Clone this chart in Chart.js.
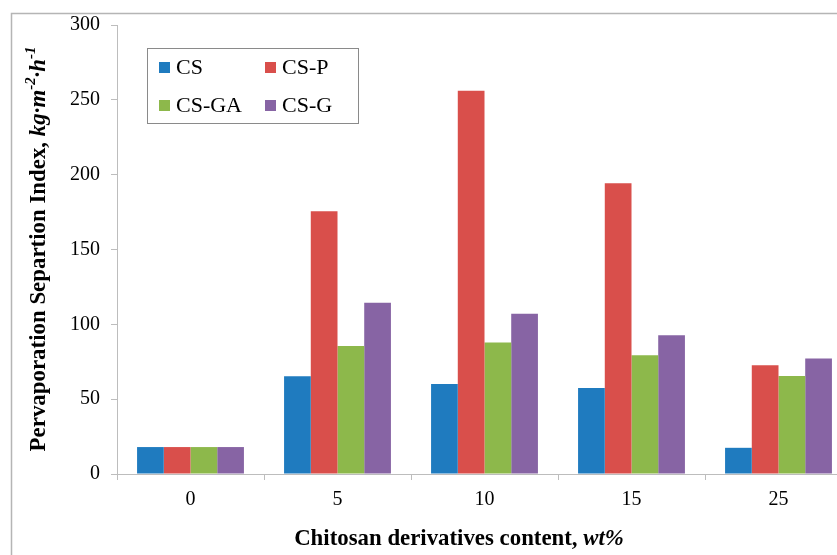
<!DOCTYPE html>
<html>
<head>
<meta charset="utf-8">
<script src="https://cdn.jsdelivr.net/npm/chart.js@4.4.1/dist/chart.umd.min.js"></script>
<style>
  html, body { margin: 0; padding: 0; background: #fff; overflow: hidden; }
  #wrap { width: 837px; height: 555px; overflow: hidden; position: relative; }
  canvas { display: block; }
</style>
</head>
<body>
<div id="wrap"><canvas id="c" width="870" height="555"></canvas></div>
<script>
// ---- data ----
const categories = ['0', '5', '10', '15', '25'];
const seriesNames = ['CS', 'CS-P', 'CS-GA', 'CS-G'];
const csValues   = [18, 65.3, 60.2, 57.5, 17.5];
const cspValues  = [18, 175.5, 256.1, 194.2, 72.7];
const csgaValues = [18, 85.5, 87.8, 79.3, 65.5];
const csgValues  = [18, 114.4, 107.1, 92.7, 77.1];
const yMin = 0, yMax = 300, yStep = 50;
const xTitleMain = 'Chitosan derivatives content, ';
const xTitleItalic = 'wt%';
const yTitleMain = 'Pervaporation Separtion Index, ';

const colors = ['#1F7BBF', '#D94F4B', '#8DB84B', '#8764A4'];
const SERIF = "'Liberation Serif', 'Times New Roman', serif";
const W = 870, H = 555;
const plotLeft = 117, plotRight = 852, plotTop = 25, plotBottom = 474;

const seriesValues = [csValues, cspValues, csgaValues, csgValues];

function fitFont(ctx, parts, targetW, baseSize) {
  let total = 0;
  parts.forEach(p => {
    ctx.font = `${p.style || 'normal'} bold ${baseSize * (p.scale || 1)}px ${SERIF}`;
    total += ctx.measureText(p.text).width;
  });
  return baseSize * targetW / total;
}

const decor = {
  id: 'decor',
  beforeDraw(chart) {
    const ctx = chart.ctx;
    ctx.save();
    ctx.fillStyle = '#fff';
    ctx.fillRect(0, 0, W, H);
    ctx.strokeStyle = '#b5b5b5';
    ctx.lineWidth = 1.5;
    ctx.beginPath();
    ctx.moveTo(11.5, H + 5);
    ctx.lineTo(11.5, 13.5);
    ctx.lineTo(W + 5, 13.5);
    ctx.stroke();
    ctx.restore();
  },
  afterDraw(chart) {
    const ctx = chart.ctx;
    ctx.save();
    // ---- legend ----
    ctx.strokeStyle = '#8a8a8a';
    ctx.lineWidth = 1;
    ctx.strokeRect(147.5, 48.5, 211, 75);
    const pos = [[159, 67], [265, 67], [159, 105], [265, 105]];
    ctx.font = `22px ${SERIF}`;
    ctx.textBaseline = 'middle';
    ctx.textAlign = 'left';
    chart.data.datasets.forEach((ds, i) => {
      const [mx, my] = pos[i];
      ctx.fillStyle = ds.backgroundColor;
      ctx.fillRect(mx, my - 5, 11, 11);
      ctx.fillStyle = '#000';
      ctx.fillText(ds.label, mx + 17, my + 1);
    });

    // ---- x title ----
    const xParts = [{text: xTitleMain}, {text: xTitleItalic, style: 'italic'}];
    const xs = fitFont(ctx, xParts, 330, 21);
    let totalX = 0;
    xParts.forEach(p => { ctx.font = `${p.style || 'normal'} bold ${xs}px ${SERIF}`; p.w = ctx.measureText(p.text).width; totalX += p.w; });
    let x = 459 - totalX / 2;
    ctx.textBaseline = 'alphabetic';
    ctx.fillStyle = '#000';
    xParts.forEach(p => { ctx.font = `${p.style || 'normal'} bold ${xs}px ${SERIF}`; ctx.fillText(p.text, x, 545); x += p.w; });

    // ---- y title (rotated) ----
    const yParts = [
      {text: yTitleMain},
      {text: 'kg\u00B7m', style: 'italic'},
      {text: '-2', style: 'italic', scale: 0.65, sup: true},
      {text: '\u00B7h', style: 'italic'},
      {text: '-1', style: 'italic', scale: 0.65, sup: true}
    ];
    const ys = fitFont(ctx, yParts, 405, 20);
    let totalY = 0;
    yParts.forEach(p => { ctx.font = `${p.style || 'normal'} bold ${ys * (p.scale || 1)}px ${SERIF}`; p.w = ctx.measureText(p.text).width; totalY += p.w; });
    ctx.translate(45, 249);
    ctx.rotate(-Math.PI / 2);
    let t = -totalY / 2;
    yParts.forEach(p => {
      ctx.font = `${p.style || 'normal'} bold ${ys * (p.scale || 1)}px ${SERIF}`;
      ctx.fillText(p.text, t, p.sup ? -ys * 0.42 : 0);
      t += p.w;
    });
    ctx.restore();
  }
};

new Chart(document.getElementById('c'), {
  type: 'bar',
  data: {
    labels: categories,
    datasets: seriesNames.map((name, i) => ({
      label: name,
      data: seriesValues[i],
      backgroundColor: colors[i],
      borderWidth: 0,
      categoryPercentage: 0.727,
      barPercentage: 1.0
    }))
  },
  options: {
    responsive: false,
    devicePixelRatio: 1,
    animation: false,
    layout: { padding: { left: 0, top: plotTop, right: W - plotRight, bottom: 0 } },
    plugins: { legend: { display: false }, tooltip: { enabled: false }, title: { display: false } },
    scales: {
      x: {
        offset: true,
        grid: { display: true, drawOnChartArea: false, drawTicks: true, tickLength: 6, color: '#bdbdbd', lineWidth: 1 },
        border: { display: true, color: '#bdbdbd', width: 1 },
        ticks: { color: '#000', font: { family: SERIF, size: 20 }, padding: 8 },
        afterFit(scale) { scale.height = H - plotBottom; }
      },
      y: {
        min: yMin, max: yMax,
        grid: { display: true, drawOnChartArea: false, drawTicks: true, tickLength: 6, color: '#bdbdbd', lineWidth: 1 },
        border: { display: true, color: '#bdbdbd', width: 1 },
        ticks: { stepSize: yStep, color: '#000', font: { family: SERIF, size: 20 }, padding: 11 },
        afterFit(scale) { scale.width = plotLeft; }
      }
    }
  },
  plugins: [decor]
});
</script>
</body>
</html>
